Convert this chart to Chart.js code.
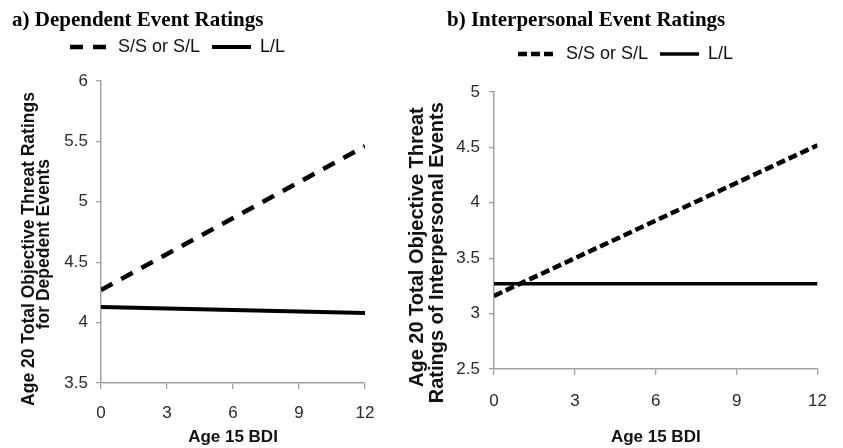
<!DOCTYPE html>
<html><head><meta charset="utf-8">
<script src="https://cdn.jsdelivr.net/npm/chart.js@4.4.0/dist/chart.umd.min.js"></script>
<style>
html,body{margin:0;padding:0;background:#fff;}
body{width:843px;height:448px;position:relative;overflow:hidden;}
canvas{position:absolute;top:0;}
#ca{left:0;} #cb{left:400px;}
</style></head><body>
<canvas id="ca" width="400" height="448"></canvas>
<canvas id="cb" width="443" height="448"></canvas>
<script>
// ---- data ----
const bdiX = [0, 12];
const xTickValues = [0, 3, 6, 9, 12];
const seriesNames = ['S/S or S/L', 'L/L'];
const dependentSS = [4.27, 5.46];
const dependentLL = [4.13, 4.08];
const interpersonalSS = [3.16, 4.52];
const interpersonalLL = [3.27, 3.27];
const yTickValuesA = [3.5, 4, 4.5, 5, 5.5, 6];
const yTickValuesB = [2.5, 3, 3.5, 4, 4.5, 5];
const titleA = 'a) Dependent Event Ratings';
const titleB = 'b) Interpersonal Event Ratings';
const yTitleA = ['Age 20 Total Objective Threat Ratings       ', 'for Depedent Events     '];
const yTitleB = ['Age 20 Total Objective Threat      ', 'Ratings of Interpersonal Events        '];
const xTitle = 'Age 15 BDI';

// ---- styling ----
const F = "'Liberation Sans', Arial, sans-serif";
const SERIF = "'Liberation Serif', 'Times New Roman', serif";
const axisColor = '#a3a3a3';
const tickColor = '#2a2a2a';

const pts = (xs, ys) => xs.map((x, i) => ({x: x, y: ys[i]}));

function placer(p) {
  return {
    id: 'placer',
    afterLayout(chart) {
      const t = chart.titleBlock;
      if (t) { const h = t.height; t.top = p.titleTop; t.bottom = t.top + h; t.left = p.titleLeft; t.right = chart.width; }
      const l = chart.legend;
      if (l) { const h = l.height, pad = l.options.labels.padding; l.left = p.legendLeft - pad; l.right = chart.width; l.top = p.legendTop; l.bottom = l.top + h; }
    }
  };
}

function scalesFor(o) {
  return {
    x: {
      type: 'linear', min: 0, max: 12,
      afterBuildTicks: s => { s.ticks = xTickValues.map(v => ({value: v})); },
      afterFit: s => { s.height = o.xHeight; },
      border: {display: true, color: axisColor, width: 1.5},
      grid: {display: true, drawOnChartArea: false, drawTicks: true, tickLength: 6, color: axisColor, lineWidth: 1.3},
      ticks: {color: tickColor, font: {family: F, size: 17}, padding: o.xPad, maxRotation: 0, autoSkip: false, callback: v => String(v)},
      title: {display: true, text: xTitle, color: '#111', font: {family: F, size: 17, weight: 'bold', lineHeight: 1.2}, padding: {top: 0, bottom: 0}}
    },
    y: {
      type: 'linear', min: o.yMin, max: o.yMax,
      afterBuildTicks: s => { s.ticks = o.yTicks.map(v => ({value: v})); },
      afterFit: s => { s.width = o.yWidth; },
      border: {display: true, color: axisColor, width: 1.5},
      grid: {display: true, drawOnChartArea: false, drawTicks: true, tickLength: 5, color: axisColor, lineWidth: 1.3},
      ticks: {color: tickColor, font: {family: F, size: 17}, padding: o.yPad, autoSkip: false, callback: v => String(v)},
      title: {display: true, text: o.yTitle, color: '#111', font: {family: F, size: o.yTitleSize, weight: 'bold', lineHeight: o.yTitleLH}, padding: {top: o.yTitlePad, bottom: 0}}
    }
  };
}

function legendOpts() {
  return {
    display: true, position: 'top', align: 'start',
    labels: {
      usePointStyle: true, pointStyle: 'line', pointStyleWidth: 39, boxHeight: 18, padding: 12, color: '#111', font: {family: F, size: 18},
      generateLabels: chart => Chart.defaults.plugins.legend.labels.generateLabels(chart).map(item => {
        const ds = chart.data.datasets[item.datasetIndex];
        item.lineDash = ds.borderDash || [];
        item.lineWidth = ds.borderWidth;
        item.lineCap = 'butt';
        return item;
      })
    }
  };
}

function titleOpts(text) {
  return {display: true, text: text, align: 'start', color: '#000', font: {family: SERIF, size: 21, weight: 'bold', lineHeight: 1.2}, padding: {top: 0, bottom: 0}};
}

new Chart(document.getElementById('ca'), {
  type: 'line',
  data: {
    datasets: [
      {label: seriesNames[0], data: pts(bdiX, dependentSS), borderColor: '#000', backgroundColor: '#000', borderWidth: 4.5, borderDash: [13, 10], borderCapStyle: 'butt', pointRadius: 0, fill: false, tension: 0},
      {label: seriesNames[1], data: pts(bdiX, dependentLL), borderColor: '#000', backgroundColor: '#000', borderWidth: 4, borderCapStyle: 'butt', pointRadius: 0, fill: false, tension: 0}
    ]
  },
  options: {
    responsive: false, animation: false, devicePixelRatio: 1,
    layout: {padding: {left: 0, right: 35, top: 15.8, bottom: 0}},
    scales: scalesFor({xHeight: 65, xPad: 14, yMin: 3.5, yMax: 6, yTicks: yTickValuesA, yWidth: 101, yPad: 8, yTitle: yTitleA, yTitleSize: 17.5, yTitleLH: 0.88, yTitlePad: 21.5}),
    plugins: {title: titleOpts(titleA), legend: legendOpts(), tooltip: {enabled: false}}
  },
  plugins: [placer({titleTop: 8.3, titleLeft: 12, legendLeft: 70, legendTop: 26})]
});

new Chart(document.getElementById('cb'), {
  type: 'line',
  data: {
    datasets: [
      {label: seriesNames[0], data: pts(bdiX, interpersonalSS), borderColor: '#000', backgroundColor: '#000', borderWidth: 4.5, borderDash: [9, 4], borderCapStyle: 'butt', pointRadius: 0, fill: false, tension: 0},
      {label: seriesNames[1], data: pts(bdiX, interpersonalLL), borderColor: '#000', backgroundColor: '#000', borderWidth: 3.5, borderCapStyle: 'butt', pointRadius: 0, fill: false, tension: 0}
    ]
  },
  options: {
    responsive: false, animation: false, devicePixelRatio: 1,
    layout: {padding: {left: 0, right: 11, top: 26.8, bottom: 0}},
    scales: scalesFor({xHeight: 79, xPad: 16, yMin: 2.5, yMax: 5, yTicks: yTickValuesB, yWidth: 94, yPad: 9, yTitle: yTitleB, yTitleSize: 20, yTitleLH: 1.0, yTitlePad: 7}),
    plugins: {title: titleOpts(titleB), legend: legendOpts(), tooltip: {enabled: false}}
  },
  plugins: [placer({titleTop: 8.3, titleLeft: 47, legendLeft: 118, legendTop: 33})]
});
</script>
</body></html>
